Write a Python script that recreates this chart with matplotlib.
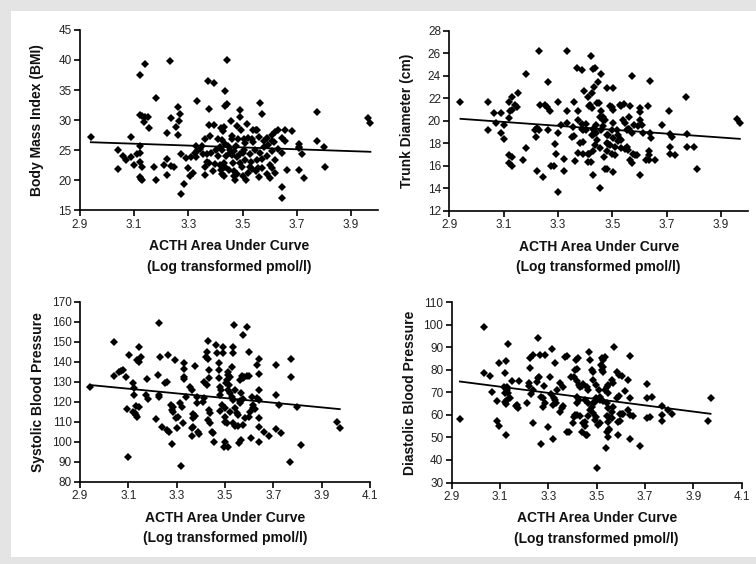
import numpy as np
import matplotlib
matplotlib.use("Agg")
import matplotlib.pyplot as plt
from matplotlib.patches import Rectangle

# ---- data (x = log ACTH AUC) ----
bmi_x = [2.94, 3.04, 3.04, 3.06, 3.07, 3.09, 3.09, 3.10, 3.11, 3.12, 3.14, 3.12, 3.13, 3.14,
         3.15, 3.135, 3.155, 3.12, 3.12, 3.12, 3.13, 3.12, 3.125, 3.13, 3.18, 3.175, 3.18,
         3.233, 3.22, 3.235, 3.222, 3.222, 3.21, 3.235, 3.247, 3.253, 3.26, 3.265, 3.27, 3.262,
         3.272, 3.272, 3.285, 3.29, 3.30, 3.305, 3.31, 3.316, 3.324, 3.33, 3.333, 3.333, 3.33,
         3.343, 3.35, 3.355, 3.36, 3.363, 3.363, 3.367, 3.37, 3.372, 3.375, 3.375, 3.38, 3.385,
         3.376, 3.393, 3.395, 3.403, 3.408, 3.417, 3.418, 3.42, 3.422, 3.424, 3.425, 3.428,
         3.43, 3.432, 3.434, 3.435, 3.437, 3.437, 3.442, 3.442, 3.448, 3.452, 3.454, 3.457,
         3.46, 3.464, 3.467, 3.469, 3.472, 3.476, 3.479, 3.485, 3.489, 3.492, 3.492, 3.494,
         3.497, 3.502, 3.504, 3.506, 3.51, 3.514, 3.516, 3.522, 3.526, 3.529, 3.535, 3.54,
         3.545, 3.552, 3.558, 3.563, 3.57, 3.55, 3.555, 3.62, 3.63, 3.61, 3.61, 3.615, 3.655,
         3.645, 3.655, 3.683, 3.773, 3.773, 3.80, 3.708, 3.708, 3.708, 3.72, 3.645, 3.663,
         3.708, 3.727, 3.806, 3.645, 3.645, 3.962, 3.972, 3.58, 3.59, 3.60, 3.59, 3.57, 3.58,
         3.61, 3.61, 3.62, 3.63, 3.60, 3.56, 3.55, 3.565, 3.62, 3.59, 3.52, 3.53, 3.51, 3.48,
         3.46, 3.45, 3.44, 3.43, 3.425, 3.41, 3.39, 3.40, 3.47, 3.49, 3.50, 3.54, 3.56, 3.535,
         3.57, 3.595, 3.48, 3.46]
bmi_y = [27.2, 21.9, 25.1, 24.1, 23.3, 27.2, 23.9, 22.6, 24.3, 37.5, 39.4, 30.8, 30.7, 30.6,
         30.6, 29.7, 28.7, 25.7, 24.6, 23.0, 22.2, 20.6, 20.3, 20.1, 33.6, 22.3, 20.1,
         39.8, 27.8, 30.3, 23.6, 20.9, 22.6, 22.4, 22.3, 28.9, 32.1, 29.8, 31.1, 27.5,
         24.4, 17.8, 19.4, 23.7, 22.1, 20.8, 23.9, 21.3, 24.6, 25.7, 33.1, 24.9, 23.9,
         25.2, 25.7, 24.4, 22.3, 26.9, 20.9, 24.3, 23.0, 36.5, 31.8, 29.2, 27.3, 24.6,
         22.9, 36.1, 29.2, 25.1, 26.8, 22.5, 25.6, 21.7, 28.7, 21.0, 26.7, 28.2,
         20.7, 28.8, 34.8, 26.1, 32.4, 22.3, 32.6, 40.0, 25.7, 25.1, 24.6, 29.8,
         26.8, 22.9, 21.5, 20.7, 20.1, 25.7, 29.0, 26.8, 24.3, 31.7, 30.5, 28.4,
         22.3, 20.7, 26.8, 25.1, 23.4, 20.1, 29.3, 27.1, 24.3, 22.3, 26.8, 28.4,
         25.1, 23.4, 22.0, 32.9, 31.1, 28.4, 28.4, 28.1, 28.3, 27.5, 26.6, 26.3, 28.4,
         27.0, 26.6, 28.2, 31.4, 26.6, 25.6, 26.0, 25.6, 25.3, 24.3, 24.6, 21.8,
         21.7, 20.4, 22.2, 18.9, 17.0, 30.3, 29.6, 25.5, 24.0, 22.5, 21.0, 23.5, 26.5,
         24.8, 22.0, 23.3, 25.2, 20.4, 20.5, 21.5, 24.6, 21.2, 27.0, 21.2, 23.0, 26.2, 23.8,
         27.4, 21.8, 24.0, 22.9, 25.0, 24.0, 21.5, 22.8, 24.9, 22.9, 24.5, 26.3, 27.2, 21.9,
         22.1, 25.9, 21.0, 24.2]

trunk_x = [2.941, 3.041, 3.041, 3.064, 3.071, 3.09, 3.09, 3.102, 3.102, 3.121, 3.13, 3.125,
           3.13, 3.121, 3.121, 3.13, 3.121, 3.132, 3.14, 3.148, 3.154, 3.172, 3.181, 3.182,
           3.215, 3.224, 3.231, 3.219, 3.231, 3.234, 3.221, 3.244, 3.252, 3.258, 3.262, 3.264,
           3.27, 3.274, 3.285, 3.289, 3.293, 3.299, 3.299, 3.301, 3.31, 3.322, 3.322, 3.332,
           3.332, 3.332, 3.35, 3.359, 3.354, 3.359, 3.363, 3.369, 3.372, 3.372, 3.375, 3.381,
           3.387, 3.387, 3.391, 3.397, 3.405, 3.411, 3.418, 3.415, 3.411, 3.421, 3.421, 3.427,
           3.427, 3.43, 3.436, 3.432, 3.432, 3.44, 3.442, 3.448, 3.452, 3.454, 3.46, 3.46,
           3.467, 3.473, 3.469, 3.473, 3.479, 3.479, 3.485,
           3.504, 3.571, 3.64, 3.771, 3.96, 3.97, 3.71, 3.682, 3.63, 3.602, 3.602, 3.602,
           3.608, 3.614, 3.639, 3.642, 3.712, 3.72, 3.774, 3.712, 3.712, 3.73, 3.774, 3.80,
           3.811, 3.602, 3.626, 3.636, 3.656, 3.636, 3.636, 3.577, 3.583, 3.592, 3.565, 3.571,
           3.553, 3.559, 3.547, 3.528, 3.534, 3.522, 3.504, 3.479, 3.43, 3.393, 3.393, 3.492,
           3.498, 3.504, 3.528, 3.534, 3.545, 3.565, 3.563, 3.54, 3.547, 3.559, 3.58, 3.596,
           3.442, 3.415, 3.424, 3.455, 3.467, 3.465, 3.46, 3.44, 3.43, 3.405, 3.387, 3.504,
           3.498, 3.516, 3.553, 3.563, 3.571, 3.485, 3.504, 3.479, 3.492, 3.51, 3.522, 3.43,
           3.436, 3.455, 3.43, 3.412, 3.479, 3.498, 3.51, 3.534]
trunk_y = [21.64, 21.64, 19.19, 20.67, 19.84, 20.67, 18.89, 18.39, 19.63, 21.64, 22.15, 20.9,
           20.96, 20.28, 16.23, 16.02, 16.97, 16.82, 21.41, 21.2, 22.44, 16.53, 17.56, 24.16,
           19.19, 19.34, 19.19, 18.6, 26.23, 21.41, 15.58, 15.05, 21.41, 21.2, 23.48, 19.19,
           20.9, 16.02, 16.02, 17.95, 17.03, 21.64, 18.89, 13.72, 19.63, 15.58, 16.59, 26.23,
           20.9, 19.84, 18.6, 18.69, 19.43, 21.64, 16.47, 24.66, 20.9, 20.08, 17.12, 18.07,
           24.5, 19.72, 19.19, 22.65, 19.72, 22.15, 21.41, 17.06, 16.38, 16.38, 25.76, 22.5,
           18.75, 24.6, 24.66, 23.04, 19.19, 18.89, 18.3, 23.48, 21.62, 14.01, 24.2, 20.9,
           20.37, 20.08, 16.82, 15.7, 22.89, 18.75, 17.95,
           22.89, 24.0, 23.5, 22.1, 20.2, 19.8, 20.9, 19.6, 21.3, 21.1, 20.8, 20.08,
           19.6, 18.9, 18.9, 18.5, 18.8, 18.6, 18.8, 17.7, 17.1, 17.0, 17.7, 17.7,
           15.7, 15.2, 16.5, 16.5, 16.5, 17.3, 17.0, 17.1, 17.0, 17.0, 16.5, 16.3,
           17.7, 17.4, 17.5, 18.4, 18.3, 18.75, 15.5, 15.7, 15.2, 18.1, 17.1, 21.3,
           21.2, 21.0, 21.4, 21.3, 21.5, 21.3, 20.3, 20.1, 19.8, 19.3, 19.6, 19.5,
           21.6, 21.3, 21.1, 20.3, 20.1, 19.5, 19.2, 19.6, 19.3, 19.2, 19.3, 19.8,
           19.2, 19.2, 19.2, 19.25, 18.9, 18.75, 18.45, 18.0, 17.85, 17.7, 18.2, 18.75,
           17.9, 17.6, 17.3, 17.1, 17.3, 17.1, 16.97, 17.6]

sbp_x = [2.941, 3.041, 3.041, 3.063, 3.07, 3.077, 3.09, 3.093, 3.103, 3.121, 3.123, 3.123,
         3.121, 3.128, 3.132, 3.134, 3.132, 3.144, 3.134, 3.144, 3.152, 3.144, 3.176, 3.173,
         3.183, 3.214, 3.223, 3.228, 3.231, 3.228, 3.228, 3.238, 3.253, 3.261, 3.263, 3.261,
         3.27, 3.281, 3.277, 3.283, 3.281, 3.286, 3.293, 3.3, 3.296, 3.307, 3.314, 3.321,
         3.33, 3.33, 3.33, 3.33, 3.325, 3.339, 3.355, 3.362, 3.363, 3.362, 3.369, 3.366,
         3.376, 3.369, 3.374, 3.383, 3.383, 3.39, 3.394, 3.41, 3.413, 3.421, 3.428, 3.424,
         3.428, 3.434, 3.434, 3.413, 3.424, 3.432, 3.438, 3.431, 3.438, 3.445, 3.452, 3.454,
         3.463, 3.468, 3.474, 3.474, 3.474, 3.479, 3.483, 3.479, 3.486, 3.479, 3.49, 3.493,
         3.5, 3.507, 3.496, 3.514, 3.514, 3.514, 3.521, 3.507, 3.503, 3.518, 3.514, 3.521,
         3.528, 3.534, 3.532, 3.532, 3.528, 3.537, 3.543, 3.548, 3.534, 3.541, 3.555, 3.559,
         3.562, 3.565, 3.562, 3.569, 3.576, 3.573, 3.59, 3.58, 3.59, 3.599, 3.601, 3.599,
         3.603, 3.606, 3.614, 3.631, 3.642, 3.64, 3.64, 3.64, 3.64,
         3.642, 3.713, 3.774, 3.774, 3.642, 3.631, 3.61, 3.713, 3.724, 3.8, 3.614, 3.624,
         3.562, 3.576, 3.662, 3.683, 3.713, 3.731, 3.813, 3.964, 3.975, 3.565, 3.5, 3.576,
         3.583, 3.555, 3.5, 3.5, 3.52, 3.541, 3.77, 3.32, 3.10]
sbp_y = [127.2, 150.0, 133.0, 134.7, 135.3, 135.8, 132.2, 116.3, 143.3, 129.2, 126.7, 123.2,
         115.0, 114.2, 113.3, 112.2, 117.8, 117.2, 140.8, 140.0, 142.5, 147.2, 131.2, 123.3,
         121.2, 111.2, 133.3, 159.2, 142.5, 123.3, 122.2, 107.5, 129.5, 130.0, 143.3, 105.8,
         105.0, 98.8, 118.3, 117.5, 115.8, 114.8, 140.8, 107.0, 111.7, 112.5, 119.2, 117.5,
         139.2, 136.2, 132.2, 131.2, 109.2, 122.2, 127.5, 125.8, 102.8, 106.7, 107.2, 114.0,
         113.0, 111.7, 138.0, 122.2, 119.5, 105.0, 103.8, 120.0, 122.0, 142.5, 141.2, 145.0,
         150.5, 135.8, 132.0, 130.0, 128.3, 115.8, 114.2, 110.8, 109.2, 105.0, 104.2, 100.0,
         148.3, 144.2, 139.2, 135.8, 131.7, 127.5, 125.8, 123.3, 118.3, 115.5, 147.2, 144.2,
         110.0, 109.2, 97.5, 97.5, 135.0, 133.3, 132.2, 130.8, 129.2, 128.3, 125.8, 124.2,
         122.2, 120.8, 147.2, 144.2, 137.5, 158.3, 116.7, 114.2, 109.2, 107.8, 107.8, 99.2,
         119.2, 124.5, 130.8, 133.0, 131.7, 153.3, 157.5, 132.5, 132.8, 132.8, 145.0, 112.5,
         115.0, 101.7, 116.7, 121.7, 100.0, 125.8, 120.8, 111.7, 107.5,
         141.2, 138.2, 141.2, 132.2, 134.0, 138.2, 122.5, 123.3, 118.2, 117.2, 118.3, 116.2,
         120.5, 121.3, 105.0, 103.0, 106.2, 104.2, 98.2, 110.0, 107.0, 100.8, 100.0, 108.3,
         112.0, 113.3, 112.5, 116.7, 115.0, 125.8, 90.0, 88.0, 92.5]

dbp_x = [2.934, 3.035, 3.035, 3.058, 3.065, 3.086, 3.086, 3.096, 3.097, 3.121, 3.125, 3.125,
         3.118, 3.127, 3.13, 3.121, 3.134, 3.121, 3.125, 3.127, 3.134, 3.148, 3.141, 3.169,
         3.176, 3.165, 3.178, 3.21, 3.224, 3.224, 3.238, 3.221, 3.221, 3.227, 3.238, 3.238,
         3.251, 3.258, 3.262, 3.268, 3.258, 3.265, 3.286, 3.268, 3.276, 3.282, 3.279, 3.286,
         3.3, 3.306, 3.309, 3.317, 3.32, 3.323, 3.327, 3.33, 3.32, 3.327, 3.334, 3.35, 3.362,
         3.35, 3.355, 3.362, 3.369, 3.376, 3.376, 3.387, 3.392, 3.406, 3.403, 3.406, 3.41,
         3.42, 3.414, 3.424, 3.42, 3.428, 3.431, 3.438, 3.417, 3.428, 3.417, 3.41, 3.42,
         3.431, 3.44, 3.444, 3.451, 3.455, 3.458, 3.465, 3.469, 3.472, 3.472, 3.479, 3.483,
         3.486, 3.486, 3.486, 3.493, 3.496, 3.493, 3.507, 3.513, 3.51, 3.513, 3.52, 3.527,
         3.534, 3.516, 3.524, 3.534, 3.541, 3.548, 3.541, 3.548, 3.541, 3.548, 3.55, 3.538,
         3.548, 3.541,
         3.571, 3.638, 3.52, 3.527, 3.479, 3.583, 3.593, 3.603, 3.628, 3.709, 3.562, 3.569,
         3.548, 3.445, 3.499, 3.617, 3.593, 3.583, 3.709, 3.727, 3.638, 3.769, 3.796, 3.81,
         3.769, 3.769, 3.709, 3.72, 3.638, 3.651, 3.631, 3.596, 3.603, 3.61, 3.596, 3.589,
         3.552, 3.562, 3.562, 3.569, 3.638, 3.679, 3.589, 3.552, 3.5, 3.458, 3.971, 3.962,
         3.465, 3.452, 3.513, 3.499, 3.527, 3.452, 3.465]
dbp_y = [58.1, 99.2, 78.5, 77.3, 70.1, 66.2, 57.5, 55.1, 83.2, 78.5, 84.1, 51.1,
         72.6, 72.3, 71.1, 69.6, 69.6, 65.9, 64.9, 66.6, 91.5, 75.2, 67.4, 64.4,
         63.0, 64.1, 75.2, 65.5, 81.0, 85.1, 86.6, 74.3, 72.9, 69.3, 71.1, 56.3,
         74.8, 76.3, 76.7, 47.1, 94.0, 86.6, 86.6, 67.8, 67.4, 72.9, 63.7, 65.5,
         54.8, 76.7, 69.3, 89.1, 49.2, 67.4, 66.6, 65.2, 64.4, 83.2, 71.1, 74.3, 72.6,
         61.5, 63.0, 64.0, 85.6, 86.2, 52.2, 52.2, 76.7, 76.7, 56.3, 59.3, 80.0,
         80.3, 84.4, 85.1, 75.2, 73.3, 72.6, 72.9, 68.1, 66.6, 65.5, 60.0, 60.0,
         59.6, 52.3, 56.3, 55.1, 51.1, 72.6, 71.1, 88.1, 84.4, 62.2, 63.4, 60.7,
         79.2, 75.5, 65.2, 65.9, 59.3, 57.8, 55.6, 56.3, 71.1, 68.1, 85.1, 84.4,
         85.6, 82.2, 81.2, 71.1, 72.6, 69.6, 65.2, 63.0, 59.6, 57.0, 53.3, 45.2,
         50.4, 52.2,
         90.0, 86.3, 80.0, 79.0, 80.0, 79.1, 77.7, 77.4, 75.5, 73.6, 75.5, 74.1,
         73.3, 73.6, 73.3, 70.8, 68.6, 67.6, 67.4, 68.1, 67.4, 64.0, 62.2, 60.3,
         60.0, 57.5, 58.5, 59.3, 60.0, 59.6, 62.2, 60.2, 60.4, 60.2, 57.5, 56.8,
         59.3, 58.5, 61.5, 63.4, 49.2, 46.3, 51.1, 53.6, 36.3, 51.1, 67.4, 57.3,
         59.6, 56.8, 66.6, 67.4, 66.0, 66.6, 65.5]

y_labels = ["Body Mass Index (BMI)", "Trunk Diameter (cm)",
            "Systolic Blood Pressure", "Diastolic Blood Pressure"]
x_label = "ACTH Area Under Curve\n(Log transformed pmol/l)"

top_xticks = [2.9, 3.1, 3.3, 3.5, 3.7, 3.9]
bottom_xticks = [2.9, 3.1, 3.3, 3.5, 3.7, 3.9, 4.1]
bmi_yticks = [15, 20, 25, 30, 35, 40, 45]
trunk_yticks = [12, 14, 16, 18, 20, 22, 24, 26, 28]
sbp_yticks = [80, 90, 100, 110, 120, 130, 140, 150, 160, 170]
dbp_yticks = [30, 40, 50, 60, 70, 80, 90, 100, 110]

plt.rcParams['font.family'] = ['Liberation Sans', 'DejaVu Sans']

fig = plt.figure(figsize=(7.56, 5.64), dpi=100, facecolor='#e4e4e4')
# white plotting area inside a thin grey frame
fig.patches.append(Rectangle((11 / 756, 7 / 564), 1, 546 / 564, transform=fig.transFigure,
                             facecolor='white', edgecolor='none', zorder=-10))

panels = [
    ([0.1058, 0.6268, 0.3942, 0.3204], bmi_x, bmi_y, y_labels[0], top_xticks, (2.9, 4.0), bmi_yticks),
    ([0.5944, 0.6259, 0.3950, 0.3197], trunk_x, trunk_y, y_labels[1], top_xticks, (2.9, 4.0), trunk_yticks),
    ([0.1058, 0.1459, 0.3836, 0.3191], sbp_x, sbp_y, y_labels[2], bottom_xticks, (2.9, 4.1), sbp_yticks),
    ([0.5975, 0.1445, 0.3836, 0.3195], dbp_x, dbp_y, y_labels[3], bottom_xticks, (2.9, 4.1), dbp_yticks),
]

for rect, xs, ys, ylab, xt, xlim, yt in panels:
    ax = fig.add_axes(rect)
    ax.set_facecolor('none')
    xs = np.array(xs)
    ys = np.array(ys)
    ax.plot(xs, ys, 'D', color='black', ms=3.6, mew=0)

    # least squares trend line over the range of the data
    k, b = np.polyfit(xs, ys, 1)
    lx = np.array([xs.min(), xs.max()])
    ax.plot(lx, k * lx + b, color='black', lw=1.3)

    ax.set_xlim(*xlim)
    ax.set_ylim(yt[0], yt[-1])
    ax.set_xticks(xt)
    ax.set_yticks(yt)
    ax.set_xticklabels([f"{t:.1f}" for t in xt])
    for s in ['top', 'right']:
        ax.spines[s].set_visible(False)
    for s in ['left', 'bottom']:
        ax.spines[s].set_linewidth(1.2)
    ax.tick_params(direction='out', length=4, width=1.2, labelsize=8.5,
                   labelcolor='#222222', pad=2)

    ax.set_xlabel(x_label, fontsize=10, fontweight='bold', linespacing=1.6,
                  color='#111111', va='top')
    ax.xaxis.set_label_coords(0.5, -0.16)
    ax.set_ylabel(ylab, fontsize=10, fontweight='bold', color='#111111')
    ax.yaxis.set_label_coords(-0.12, 0.5)

fig.savefig("out.png", dpi=100, facecolor=fig.get_facecolor())
